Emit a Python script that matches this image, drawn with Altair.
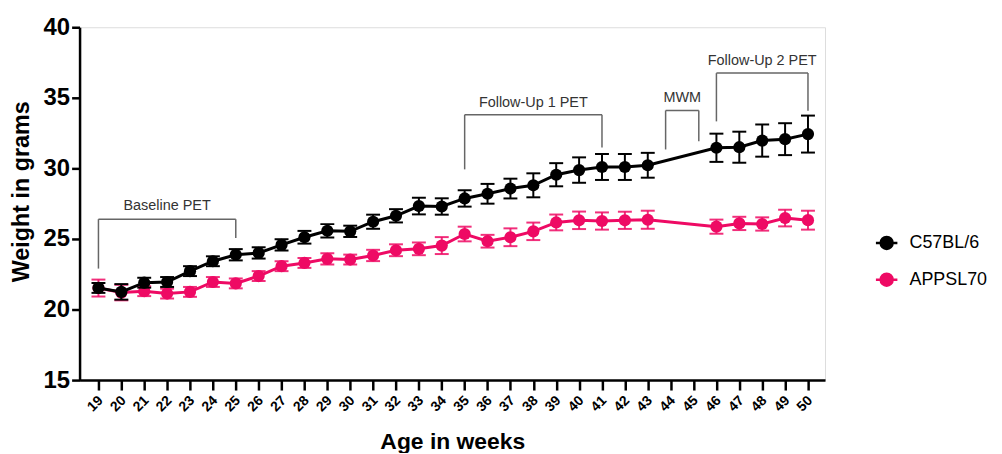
import altair as alt
import pandas as pd

weeks = [19, 20, 21, 22, 23, 24, 25, 26, 27, 28, 29, 30, 31, 32, 33, 34, 35, 36, 37, 38,
         39, 40, 41, 42, 43, 46, 47, 48, 49, 50]
tick_weeks = list(range(19, 51))
c57_mean = [21.53, 21.25, 21.9, 21.95, 22.72, 23.42, 23.88, 24.01, 24.58, 25.12, 25.58, 25.54,
            26.22, 26.64, 27.33, 27.3, 27.87, 28.2, 28.57, 28.8, 29.55, 29.88, 30.1, 30.1, 30.22,
            31.46, 31.5, 31.97, 32.07, 32.43]
c57_sem = [0.35, 0.55, 0.35, 0.35, 0.35, 0.35, 0.4, 0.4, 0.4, 0.45, 0.47, 0.4, 0.5, 0.47, 0.59,
           0.58, 0.58, 0.7, 0.7, 0.85, 0.82, 0.9, 0.92, 0.92, 0.88, 1.0, 1.1, 1.14, 1.13, 1.31]
app_mean = [21.52, 21.2, 21.3, 21.13, 21.25, 21.95, 21.85, 22.37, 23.07, 23.3, 23.59, 23.54,
            23.83, 24.2, 24.3, 24.53, 25.35, 24.84, 25.12, 25.54, 26.17, 26.32, 26.27, 26.32,
            26.36, 25.87, 26.1, 26.06, 26.48, 26.33]
app_sem = [0.6, 0.55, 0.35, 0.35, 0.35, 0.35, 0.35, 0.35, 0.35, 0.35, 0.4, 0.35, 0.4, 0.42,
           0.45, 0.6, 0.52, 0.45, 0.63, 0.62, 0.56, 0.62, 0.61, 0.61, 0.64, 0.5, 0.47, 0.47,
           0.59, 0.67]
strains = ["C57BL/6", "APPSL70"]
colors = ["#000000", "#EE0A64"]

bracket_labels = ["Baseline PET", "Follow-Up 1 PET", "MWM", "Follow-Up 2 PET"]
bracket_start = [19, 35, 43.78, 46]
bracket_end = [25, 41, 45.23, 50]
bracket_top = [26.4, 33.8, 34.1, 36.75]
bracket_left_low = [22.9, 29.93, 31.34, 33.33]
bracket_right_low = [25.07, 31.48, 31.92, 34.08]
bracket_text_y = [27.3, 34.65, 34.98, 37.63]

y_ticks = [15, 20, 25, 30, 35, 40]

FONT = "Liberation Sans"

rows = []
for s, means, sems in ((strains[0], c57_mean, c57_sem), (strains[1], app_mean, app_sem)):
    for w, m, e in zip(weeks, means, sems):
        rows.append({"strain": s, "week": w, "mean": m, "lo": m - e, "hi": m + e})
df = pd.DataFrame(rows)

seg_rows = []
for s0, s1, top, ll, rl in zip(bracket_start, bracket_end, bracket_top, bracket_left_low, bracket_right_low):
    seg_rows.append({"x": s0, "x2": s1, "y": top, "y2": top})
    seg_rows.append({"x": s0, "x2": s0, "y": ll, "y2": top})
    seg_rows.append({"x": s1, "x2": s1, "y": rl, "y2": top})
seg_df = pd.DataFrame(seg_rows)

lab_df = pd.DataFrame({
    "label": bracket_labels,
    "xm": [(a + b) / 2 for a, b in zip(bracket_start, bracket_end)],
    "y": bracket_text_y,
})

xscale = alt.Scale(domain=[18.175, 50.745], nice=False, zero=False)
yscale = alt.Scale(domain=[15, 40], nice=False, zero=False)
cscale = alt.Scale(domain=strains, range=colors)

x_axis = alt.Axis(values=tick_weeks, title="Age in weeks", labelAngle=315,
                  labelFontSize=14, labelFont=FONT, labelFontWeight="bold", labelColor="#000",
                  tickSize=10, tickWidth=2.5, tickColor="#000", domainWidth=2.5, domainColor="#000",
                  labelPadding=8, labelOffset=2, titleFont=FONT, titleFontSize=23,
                  titleFontWeight="bold", titleColor="#000", titleY=62, titleBaseline="middle",
                  grid=False, labelFlush=False, labelOverlap=False, labelAlign="right",
                  labelBaseline="middle")
y_axis = alt.Axis(values=y_ticks, title="Weight in grams", labelFontSize=24, labelFont=FONT,
                  labelFontWeight="bold", labelColor="#000", tickSize=8, tickWidth=2.5,
                  tickColor="#000", domainWidth=2.5, domainColor="#000", labelPadding=2,
                  titleFont=FONT, titleFontSize=23.5, titleFontWeight="bold", titleColor="#000",
                  titleX=-58, titleY=165, titleBaseline="middle", titleAlign="center",
                  titleAngle=270, grid=False)

legend = alt.Legend(orient="none", legendX=803, legendY=208, title=None,
                    symbolType="M-1.8,0L1.8,0M-1,0A1,1,0,1,0,1,0A1,1,0,1,0,-1,0Z",
                    symbolSize=144, symbolStrokeWidth=2.5, symbolOpacity=1, labelFont=FONT,
                    labelFontSize=18, labelColor="#000", labelOffset=14, rowPadding=15, padding=0)

X = alt.X("week:Q", scale=xscale, axis=x_axis)


def Y(field):
    return alt.Y(field, scale=yscale, axis=y_axis)


layers = []
for i, s in enumerate([strains[1], strains[0]]):
    base = alt.Chart(df).transform_filter(alt.datum.strain == s)
    col = alt.Color("strain:N", scale=cscale, legend=legend if i == 0 else None)
    op = 0.85 if i == 0 else 1
    err = base.mark_rule(strokeWidth=2, opacity=op).encode(
        x=X, y=Y("lo:Q"), y2="hi:Q", color=col)
    cap_lo = base.mark_tick(orient="horizontal", size=14, thickness=2, opacity=op).encode(
        x=X, y=Y("lo:Q"), color=col)
    cap_hi = base.mark_tick(orient="horizontal", size=14, thickness=2, opacity=op).encode(
        x=X, y=Y("hi:Q"), color=col)
    line = base.mark_line(strokeWidth=3).encode(x=X, y=Y("mean:Q"), color=col)
    pts = base.mark_point(filled=True, size=150, opacity=1).encode(x=X, y=Y("mean:Q"), color=col)
    layers += [err, cap_lo, cap_hi, line, pts]

brackets = alt.Chart(seg_df).mark_rule(color="#666666", strokeWidth=1.5).encode(
    x=alt.X("x:Q", scale=xscale, axis=x_axis), x2="x2:Q",
    y=alt.Y("y:Q", scale=yscale, axis=y_axis), y2="y2:Q")
btext = alt.Chart(lab_df).mark_text(font=FONT, fontSize=14.5, color="#333333",
                                    baseline="middle").encode(
    x=alt.X("xm:Q", scale=xscale, axis=x_axis), y=alt.Y("y:Q", scale=yscale, axis=y_axis),
    text="label:N")

chart = alt.layer(*layers, brackets, btext).properties(
    width=750, height=355,
    autosize=alt.AutoSizeParams(type="none"),
    padding={"left": 72, "top": 18, "right": 170, "bottom": 72},
).configure_view(stroke=None).configure(background="white")

chart.save("out.html", embed_options={"renderer": "svg", "actions": False})
